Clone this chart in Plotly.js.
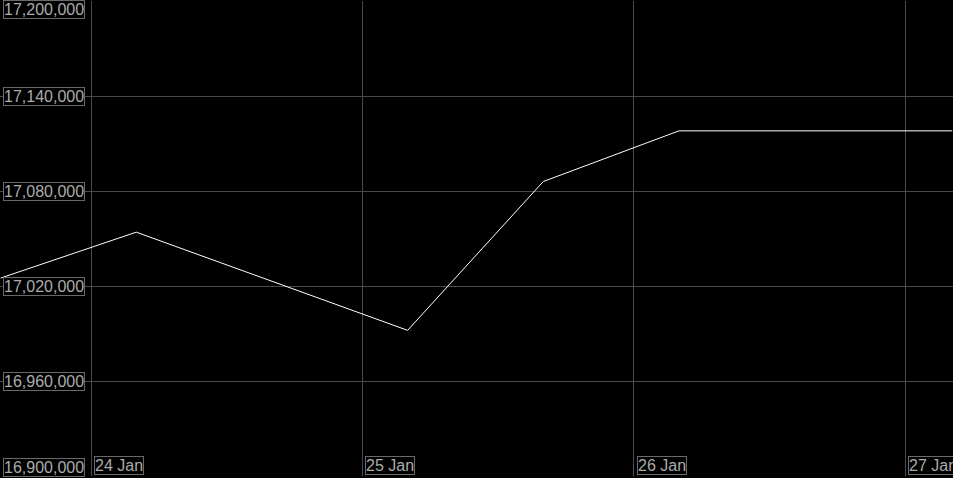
<!DOCTYPE html>
<html>
<head>
<meta charset="utf-8">
<script src="https://cdn.plot.ly/plotly-3.0.1.min.js"></script>
<style>
html,body{margin:0;padding:0;background:#000;}
#chart{width:953px;height:478px;}
</style>
</head>
<body>
<div id="chart"></div>
<script>
// Data
var times = ['2024-01-23 16:00', '2024-01-24 04:00', '2024-01-25 04:00', '2024-01-25 16:00', '2024-01-26 04:00', '2024-01-27 04:10'];
var values = [17025000, 17054000, 16992000, 17086000, 17118000, 17118000];

// Axis ticks
var yTicks = [16900000, 16960000, 17020000, 17080000, 17140000, 17200000];
var yTickLabels = ['16,900,000', '16,960,000', '17,020,000', '17,080,000', '17,140,000', '17,200,000'];
var xTicks = ['2024-01-24', '2024-01-25', '2024-01-26', '2024-01-27'];
var xTickLabels = ['24 Jan', '25 Jan', '26 Jan', '27 Jan'];

var labelFont = {family: 'Liberation Sans, Arial, sans-serif', size: 16, color: '#ababab'};
var annotations = [];
var last = yTicks.length - 1;
yTicks.forEach(function (v, i) {
  var a = {
    xref: 'paper', yref: 'y', x: 0, y: v,
    xanchor: 'left', yanchor: 'middle', xshift: 3,
    text: yTickLabels[i], showarrow: false, font: labelFont,
    bordercolor: '#6a6a6a', borderwidth: 1, borderpad: 0, bgcolor: '#000'
  };
  if (i === 0) { a.yanchor = 'bottom'; a.yshift = -1; }
  if (i === last) { a.yanchor = 'top'; a.yshift = 1; }
  annotations.push(a);
});
xTicks.forEach(function (d, i) {
  annotations.push({
    xref: 'x', yref: 'paper', x: d, y: 0,
    xanchor: 'left', yanchor: 'bottom', xshift: 3, yshift: 1,
    text: xTickLabels[i], showarrow: false, font: labelFont,
    bordercolor: '#6a6a6a', borderwidth: 1, borderpad: 0, bgcolor: '#000'
  });
});

var trace = {
  x: times, y: values, type: 'scatter', mode: 'lines',
  line: {color: '#ffffff', width: 1},
  hoverinfo: 'skip'
};

var layout = {
  width: 953, height: 478,
  paper_bgcolor: '#000', plot_bgcolor: '#000',
  margin: {l: 0, r: 0, t: 1, b: 2, pad: 0},
  showlegend: false,
  xaxis: {
    type: 'date', range: ['2024-01-23 15:57', '2024-01-27 04:14'],
    tickvals: xTicks, ticktext: xTickLabels, showticklabels: false,
    showgrid: true, gridcolor: '#4a4a4a', gridwidth: 1,
    zeroline: false, showline: false, ticks: ''
  },
  yaxis: {
    range: [16900000, 17200000],
    tickvals: yTicks, ticktext: yTickLabels, showticklabels: false,
    showgrid: true, gridcolor: '#4a4a4a', gridwidth: 1,
    zeroline: false, showline: false, ticks: ''
  },
  annotations: annotations
};

Plotly.newPlot('chart', [trace], layout, {displayModeBar: false, staticPlot: true});
</script>
</body>
</html>
